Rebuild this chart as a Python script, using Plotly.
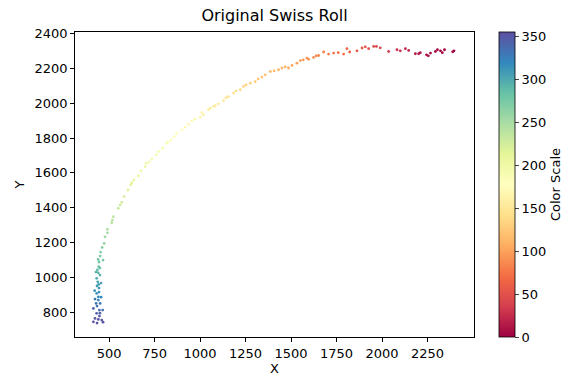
import plotly.graph_objects as go

x_vals = [414, 423, 441, 460, 432, 447, 414, 447, 465, 429, 451, 441, 441, 432, 421, 443, 438, 432, 441, 436,
          443, 440, 451, 454, 462, 473, 478, 491, 491, 515, 518, 524, 551, 561, 570, 583, 619, 625, 661, 698,
          704, 735, 759, 771, 793, 817, 841, 859, 872, 900, 918, 936, 955, 1001, 1019, 1010, 1046, 1056, 1074, 1083,
          1101, 1129, 1156, 1184, 1221, 1239, 1276, 1303, 1340, 1358, 1386, 1431, 1450, 1486, 1505, 1532, 1551, 1587, 1596, 1624,
          1651, 1679, 1706, 1734, 1789, 1807, 1822, 1862, 1890, 1926, 1954, 1969, 2036, 2082, 2128, 2146, 2183, 2201, 2244, 2266,
          2293, 2321, 2343, 2395,
          434, 456, 445, 434, 450, 428, 445, 467, 434, 450, 423, 445, 456, 467, 450,
          604, 637, 676, 720, 824, 973, 1143, 1198, 1253, 1319, 1407, 1468, 1567, 1638, 1759, 1908, 1990, 2100, 2210, 2254,
          2304, 2331, 2388]
y_vals = [744, 764, 758, 754, 793, 777, 821, 812, 812, 850, 850, 869, 888, 908, 923, 959, 974, 994, 1026, 1042,
          1061, 1103, 1122, 1145, 1172, 1195, 1233, 1256, 1276, 1314, 1329, 1348, 1397, 1416, 1431, 1464, 1531, 1544, 1583, 1636,
          1656, 1679, 1704, 1723, 1742, 1771, 1790, 1809, 1828, 1847, 1863, 1880, 1899, 1920, 1934, 1947, 1963, 1972, 1982, 1986,
          1997, 2016, 2039, 2059, 2078, 2097, 2116, 2125, 2151, 2164, 2183, 2193, 2203, 2203, 2218, 2231, 2246, 2260, 2254, 2264,
          2275, 2295, 2283, 2289, 2283, 2314, 2295, 2302, 2318, 2314, 2327, 2327, 2298, 2308, 2314, 2304, 2285, 2285, 2279, 2289,
          2298, 2302, 2308, 2302,
          835, 886, 938, 950, 1013, 1030, 1088, 742, 737, 794, 875, 915, 967, 1099, 1053,
          1502, 1560, 1612, 1663, 1778, 1911, 2032, 2072, 2106, 2141, 2187, 2210, 2250, 2273, 2291, 2325, 2319, 2302, 2291, 2273,
          2308, 2291, 2296]
color_vals = [355, 350, 352, 348, 345, 347, 340, 338, 336, 330, 328, 325, 320, 315, 312, 305, 302, 298, 290, 287,
              284, 277, 273, 270, 265, 261, 255, 251, 248, 242, 240, 237, 230, 228, 226, 222, 214, 212, 207, 201,
              199, 196, 193, 191, 188, 185, 182, 180, 178, 175, 173, 171, 169, 165, 163, 162, 159, 158, 156, 155,
              153, 150, 146, 142, 138, 135, 130, 127, 122, 120, 116, 111, 109, 105, 103, 99, 97, 92, 91, 88,
              84, 81, 78, 74, 67, 65, 62, 57, 54, 49, 45, 43, 35, 29, 23, 21, 16, 14, 9, 7,
              5, 3, 2, 0,
              333, 322, 309, 307, 294, 291, 280, 353, 354, 344, 327, 314, 304, 278, 286,
              218, 210, 204, 197, 184, 167, 148, 140, 133, 124, 113, 107, 95, 86, 71, 51, 40, 26, 12, 8,
              4, 2, 1]

x_ticks = [500, 750, 1000, 1250, 1500, 1750, 2000, 2250]
y_ticks = [800, 1000, 1200, 1400, 1600, 1800, 2000, 2200, 2400]
cbar_ticks = [0, 50, 100, 150, 200, 250, 300, 350]

spectral = ["#9e0142", "#d53e4f", "#f46d43", "#fdae61", "#fee08b", "#ffffbf",
            "#e6f598", "#abdda4", "#66c2a5", "#3288bd", "#5e4fa2"]
colorscale = [[i / 10, c] for i, c in enumerate(spectral)]

font = dict(family="DejaVu Sans", size=13, color="black")

fig = go.Figure(go.Scatter(
    x=x_vals, y=y_vals, mode="markers",
    marker=dict(size=2.8, color=color_vals, colorscale=colorscale, cmin=0, cmax=355,
                line=dict(width=0),
                colorbar=dict(
                    title=dict(text="Color Scale", side="right", font=font),
                    tickvals=cbar_ticks, ticks="outside", ticklen=4, tickwidth=0.8,
                    tickfont=font, thickness=16, len=1.0, lenmode="fraction",
                    x=1.0627, xanchor="left", y=0.5, yanchor="middle",
                    outlinewidth=0.8, outlinecolor="black", xpad=0, ypad=0,
                )),
    showlegend=False,
))

axis_common = dict(showgrid=False, zeroline=False, showline=True, linecolor="black", linewidth=0.8,
                   mirror=True, ticks="outside", ticklen=4, tickwidth=0.8, tickcolor="black",
                   tickfont=font)

W, H = 579, 390
L, R, T, B = 75, 105, 32, 53
fig.update_layout(
    width=W, height=H,
    margin=dict(l=L, r=R, t=T, b=B),
    paper_bgcolor="white", plot_bgcolor="white",
    font=font,
    title=dict(text="Original Swiss Roll", x=(L + (W - R)) / 2 / W, xanchor="center",
               y=1 - 15 / H, yanchor="middle", font=dict(family="DejaVu Sans", size=16, color="black")),
    xaxis=dict(range=[313, 2505], tickvals=x_ticks,
               title=dict(text="X", font=font, standoff=4), **axis_common),
    yaxis=dict(range=[657, 2410], tickvals=y_ticks,
               title=dict(text="Y", font=font, standoff=6), **axis_common),
)

fig.write_html("out.html", config={"displayModeBar": False},
               post_script="document.body.style.margin='0';")
